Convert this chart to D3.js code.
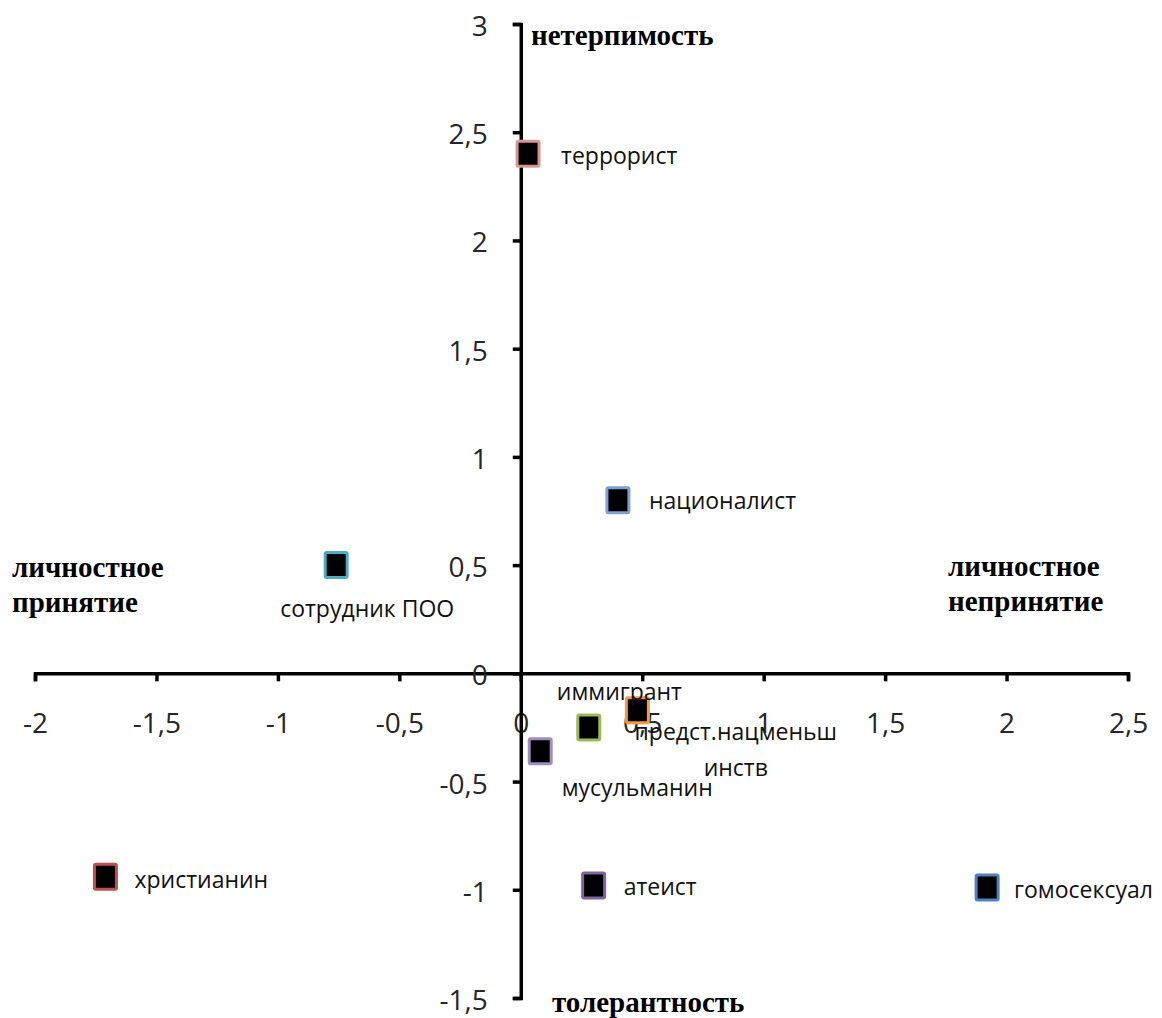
<!DOCTYPE html>
<html>
<head>
<meta charset="utf-8">
<script src="https://cdn.jsdelivr.net/npm/d3@7"></script>
<style>
  html, body { margin: 0; padding: 0; background: #fff; }
  svg { display: block; }
</style>
</head>
<body>
<svg id="chart" width="1162" height="1018"></svg>
<script>
// ---- data ----
const names = ["террорист", "националист", "сотрудник ПОО", "иммигрант", "предст.нацменьшинств", "мусульманин", "христианин", "атеист", "гомосексуал"];
const xValues = [0.03, 0.40, -0.76, 0.48, 0.28, 0.08, -1.71, 0.30, 1.92];
const yValues = [2.40, 0.80, 0.50, -0.17, -0.25, -0.36, -0.94, -0.98, -0.99];
const xTicks = [-2, -1.5, -1, -0.5, 0, 0.5, 1, 1.5, 2, 2.5];
const yTicks = [-1.5, -1, -0.5, 0, 0.5, 1, 1.5, 2, 2.5, 3];
const axisTitles = ["нетерпимость", "толерантность", "личностное|принятие", "личностное|непринятие"];

// ---- styles / layout ----
const markerColors = ["#d99694", "#7f9fcf", "#4bacc6", "#f79646", "#9bbb59", "#a08cc0", "#c0504d", "#8064a2", "#4f81bd"];
// label placement relative to marker centre: [dx, dy, anchor, lines]
const labelPlace = [
  [33, 10, "start", ["террорист"]],
  [31, 9, "start", ["националист"]],
  [31, 52, "middle", ["сотрудник ПОО"]],
  [-18, -10, "middle", ["иммигрант"]],
  [147, 13, "middle", ["предст.нацменьш", "инств"]],
  [97, 45, "middle", ["мусульманин"]],
  [29, 11, "start", ["христианин"]],
  [30, 10, "start", ["атеист"]],
  [27, 10, "start", ["гомосексуал"]]
];

const svg = d3.select("#chart");
const x = d3.scaleLinear().domain([-2, 2.5]).range([35, 1128]);
const y = d3.scaleLinear().domain([-1.5, 3]).range([998, 24]);
const fmt = v => d3.format("")(v).replace(".", ",").replace("−", "-");

const labelFont = "'Open Sans', Lato, sans-serif";

// x axis
const gx = svg.append("g")
  .attr("transform", `translate(0,${y(0)})`)
  .call(d3.axisBottom(x).tickValues(xTicks).tickFormat(fmt).tickSize(8).tickSizeOuter(8).tickPadding(32));
// y axis
const gy = svg.append("g")
  .attr("transform", `translate(${x(0)},0)`)
  .call(d3.axisLeft(y).tickValues(yTicks).tickFormat(fmt).tickSize(8).tickSizeOuter(8).tickPadding(25));

[gx, gy].forEach(g => {
  g.select(".domain").attr("stroke", "#000").attr("stroke-width", 3.5);
  g.selectAll(".tick line").attr("stroke", "#000").attr("stroke-width", 3.5);
  g.selectAll(".tick text")
    .attr("fill", "#262626")
    .style("font-family", labelFont)
    .style("font-size", "28px");
});
gy.selectAll(".tick text").attr("dy", "0.41em");

// markers
const pts = names.map((n, i) => ({ n, x: xValues[i], y: yValues[i], c: markerColors[i], p: labelPlace[i] }));
const mw = 22, mh = 25;
svg.append("g").selectAll("rect").data(pts).join("rect")
  .attr("x", d => x(d.x) - mw / 2)
  .attr("y", d => y(d.y) - mh / 2)
  .attr("width", mw).attr("height", mh)
  .attr("fill", "#000")
  .attr("stroke", d => d.c)
  .attr("stroke-width", 3)
  .attr("rx", 1.5);

// data labels
const lg = svg.append("g");
pts.forEach(d => {
  const [dx, dy, anchor, lines] = d.p;
  const t = lg.append("text")
    .attr("x", x(d.x) + dx)
    .attr("y", y(d.y) + dy)
    .attr("text-anchor", anchor)
    .attr("fill", "#111")
    .style("font-family", labelFont)
    .style("font-size", "23px");
  lines.forEach((l, k) => {
    t.append("tspan").attr("x", x(d.x) + dx).attr("dy", k === 0 ? 0 : 36).text(l);
  });
});

// axis titles (bold serif)
const titleFont = "'Liberation Serif', 'DejaVu Serif', serif";
const titleSpecs = [
  [531, 45, "start"],
  [552, 1012, "start"],
  [12, 577, "start"],
  [948, 576, "start"]
];
axisTitles.forEach((s, i) => {
  const [tx, ty, anc] = titleSpecs[i];
  const t = svg.append("text")
    .attr("x", tx).attr("y", ty)
    .attr("text-anchor", anc)
    .attr("fill", "#000")
    .style("font-family", titleFont)
    .style("font-weight", "bold")
    .style("font-size", "29px");
  s.split("|").forEach((l, k) => {
    t.append("tspan").attr("x", tx).attr("dy", k === 0 ? 0 : 35).text(l);
  });
});
</script>
</body>
</html>
